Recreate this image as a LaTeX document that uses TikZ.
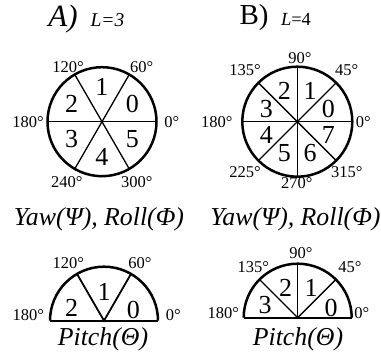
\documentclass[tikz,border=0pt]{standalone}
\usepackage{fontspec}
\setmainfont{Liberation Serif}
\usetikzlibrary{calc}
\begin{document}
\begin{tikzpicture}[x=1pt,y=1pt,
  outer/.style={line width=2.5pt},
  inner/.style={line width=1.3pt},
  num/.style={inner sep=0pt,font=\fontsize{26}{26}\selectfont},
  deg/.style={inner sep=0pt,font=\fontsize{16.5}{16.5}\selectfont},
  captxt/.style={inner sep=0pt,font=\fontsize{25.8}{25.8}\selectfont\itshape},
  ttl/.style={inner sep=0pt,font=\fontsize{31}{31}\selectfont},
  subtxt/.style={inner sep=0pt,font=\fontsize{19.5}{19.5}\selectfont}]
\useasboundingbox (0,0) rectangle (381,353);
% titles
\node[ttl] (tA) at (63,334) {\itshape A)};
\node[subtxt] (lA) at (107.5,333) {\itshape L=3};
\node[ttl,font=\fontsize{29}{29}\selectfont] (tB) at (254,335) {B)};
\node[subtxt,font=\fontsize{18.5}{18.5}\selectfont] (lB) at (296,334) {\textit{L}=4};
% circle A
\coordinate (cA) at (102,231.3);
\draw[outer] (cA) circle[radius=54.5];
\foreach \a in {0,60,120}
  \draw[inner] ($(cA)+(\a:54.5)$) -- ($(cA)+(\a+180:54.5)$);
\foreach \i in {0,...,5}
  \node[num] (nA\i) at ($(cA)+(30+60*\i:35)$) {\i};
\node[deg] (dA0) at (171.7,231) {0°};
\node[deg] (dA60) at (141.7,286.3) {60°};
\node[deg] (dA120) at (68,286.3) {120°};
\node[deg] (dA180) at (28,231) {180°};
\node[deg] (dA240) at (66.7,171.3) {240°};
\node[deg] (dA300) at (136.7,171.3) {300°};
% circle B
\coordinate (cB) at (297.3,231.3);
\draw[outer] (cB) circle[radius=55];
\foreach \a in {0,45,90,135}
  \draw[inner] ($(cB)+(\a:55)$) -- ($(cB)+(\a+180:55)$);
\foreach \i in {0,...,7}
  \node[num] (nB\i) at ($(cB)+(22.5+45*\i:33.5)$) {\i};
\node[deg] (dB0) at (363.3,231) {0°};
\node[deg] (dB45) at (346.7,283) {45°};
\node[deg] (dB90) at (300,294.7) {90°};
\node[deg] (dB135) at (245,283) {135°};
\node[deg] (dB180) at (216.7,231) {180°};
\node[deg] (dB225) at (245,181.3) {225°};
\node[deg] (dB270) at (296.7,170.3) {270°};
\node[deg] (dB315) at (346.7,181.3) {315°};
% captions
\node[captxt] (yA) at (99,134) {Yaw(Ψ), Roll(Φ)};
\node[captxt] (yB) at (295.5,134) {Yaw(Ψ), Roll(Φ)};
% semicircle A
\coordinate (pA) at (104,32.3);
\draw[outer] ($(pA)+(54,0)$) arc[start angle=0,end angle=180,radius=54];
\draw[line width=2pt] ($(pA)+(-54,0)$) -- ($(pA)+(54,0)$);
\draw[line width=1.8pt] ($(pA)+(60:54)$) -- (pA) -- ($(pA)+(120:54)$);
\node[num] (sA0) at (133.3,43) {0};
\node[num] (sA1) at (104,61.3) {1};
\node[num] (sA2) at (71.7,44.7) {2};
\node[deg] (eA0) at (173.3,38) {0°};
\node[deg] (eA60) at (140,89.7) {60°};
\node[deg] (eA120) at (68.3,89.7) {120°};
\node[deg] (eA180) at (28.3,38) {180°};
\node[captxt] (pcA) at (103,13.5) {Pitch(Θ)};
% semicircle B
\coordinate (pB) at (297.7,35.3);
\draw[outer] ($(pB)+(54,0)$) arc[start angle=0,end angle=180,radius=54];
\draw[line width=2pt] ($(pB)+(-54,0)$) -- ($(pB)+(54,0)$);
\foreach \a in {45,90,135}
  \draw[inner] (pB) -- ($(pB)+(\a:54)$);
\node[num] (sB0) at (331,45.3) {0};
\node[num] (sB1) at (311,64.7) {1};
\node[num] (sB2) at (285.7,64.7) {2};
\node[num] (sB3) at (265,48) {3};
\node[deg] (eB0) at (361.7,40) {0°};
\node[deg] (eB45) at (350,86.3) {45°};
\node[deg] (eB90) at (301,99.7) {90°};
\node[deg] (eB135) at (253.3,86.3) {135°};
\node[deg] (eB180) at (223.3,39.7) {180°};
\node[captxt] (pcB) at (298,13.5) {Pitch(Θ)};
\end{tikzpicture}
\end{document}
